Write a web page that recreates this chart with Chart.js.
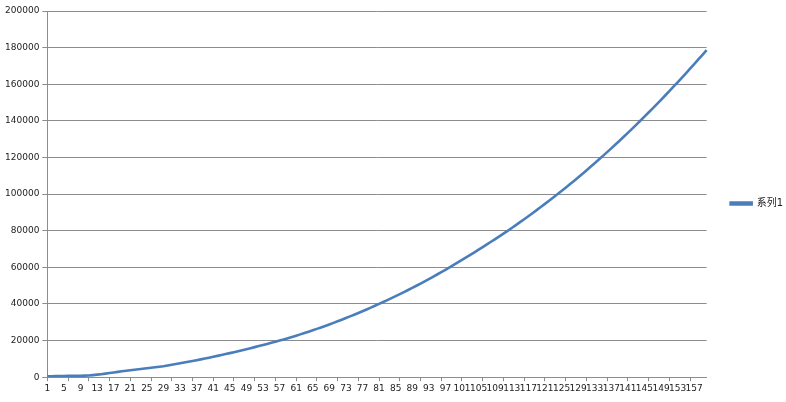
<!DOCTYPE html>
<html>
<head>
<meta charset="utf-8">
<script src="https://cdn.jsdelivr.net/npm/chart.js@4.4.0/dist/chart.umd.min.js"></script>
<style>
  body { margin: 0; background: #fff; }
</style>
</head>
<body>
<canvas id="lineChart" width="786" height="402"></canvas>
<script>
// categories 1..160
var categories = [];
for (var n = 1; n <= 160; n++) categories.push(String(n));

// series values
var series1 = [
  500, 550, 600, 620, 650, 700, 720, 750, 800, 850,
  900, 1150, 1400, 1650, 1950, 2250, 2550, 2900, 3250, 3500,
  3800, 4050, 4300, 4600, 4850, 5150, 5400, 5700, 6000, 6380,
  6770, 7170, 7580, 8000, 8420, 8850, 9290, 9740, 10200, 10670,
  11150, 11640, 12140, 12640, 13150, 13670, 14200, 14740, 15290, 15850,
  16420, 17000, 17590, 18180, 18780, 19390, 20000, 20650, 21300, 21980,
  22680, 23390, 24120, 24860, 25620, 26400, 27190, 28000, 28830, 29670,
  30530, 31400, 32300, 33200, 34130, 35070, 36030, 37000, 38000, 39000,
  40030, 41060, 42110, 43170, 44260, 45360, 46480, 47620, 48770, 49950,
  51140, 52350, 53580, 54820, 56090, 57370, 58670, 59990, 61330, 62680,
  64050, 65420, 66820, 68220, 69640, 71070, 72510, 73970, 75440, 76920,
  78420, 79930, 81490, 83070, 84670, 86280, 87920, 89570, 91250, 92940,
  94650, 96380, 98130, 99900, 101700, 103510, 105350, 107210, 109090, 111000,
  112930, 114880, 116850, 118850, 120870, 122910, 124970, 127060, 129170, 131300,
  133450, 135630, 137830, 140050, 142290, 144560, 146850, 149160, 151500, 153860,
  156240, 158640, 161060, 163510, 165980, 168480, 170990, 173530, 176090, 178680
];

// y axis ticks
var yTicks = [0, 20000, 40000, 60000, 80000, 100000, 120000, 140000, 160000, 180000, 200000];

var gridGray = '#8c8c8c';
var lineBlue = '#4a7ebb';
var fontFamily = '"DejaVu Sans", "Noto Sans CJK SC", sans-serif';

var ctx = document.getElementById('lineChart').getContext('2d');
var lineChart = new Chart(ctx, {
    type: 'line',
    data: {
        labels: categories,
        datasets: [{
            label: '系列1',
            data: series1,
            borderColor: lineBlue,
            backgroundColor: lineBlue,
            borderWidth: 2.6,
            pointRadius: 0,
            tension: 0,
            fill: false
        }]
    },
    options: {
        responsive: false,
        animation: false,
        layout: {
            padding: { top: 11, right: -7, left: 2, bottom: 6 }
        },
        plugins: {
            tooltip: { enabled: false },
            legend: {
                position: 'right',
                labels: {
                    boxWidth: 21,
                    boxHeight: 2,
                    padding: 24,
                    color: '#222',
                    font: { family: fontFamily, size: 10 }
                }
            }
        },
        scales: {
            x: {
                offset: false,
                grid: {
                    drawOnChartArea: false,
                    tickLength: 4,
                    color: function (c) { return c.index % 5 === 0 ? gridGray : 'rgba(0,0,0,0)'; }
                },
                border: { color: gridGray },
                ticks: {
                    autoSkip: false,
                    maxRotation: 0,
                    minRotation: 0,
                    padding: 2,
                    color: '#222',
                    font: { family: fontFamily, size: 9 },
                    callback: function (val, i) { return i % 4 === 0 ? categories[i] : ''; }
                }
            },
            y: {
                min: 0,
                max: 200000,
                afterBuildTicks: function (axis) {
                    axis.ticks = yTicks.map(function (v) { return { value: v }; });
                },
                grid: { color: gridGray, tickLength: 5 },
                border: { color: gridGray },
                ticks: {
                    padding: 3,
                    color: '#222',
                    font: { family: fontFamily, size: 9 },
                    callback: function (v) { return String(v); }
                }
            }
        }
    }
});
</script>
</body>
</html>
